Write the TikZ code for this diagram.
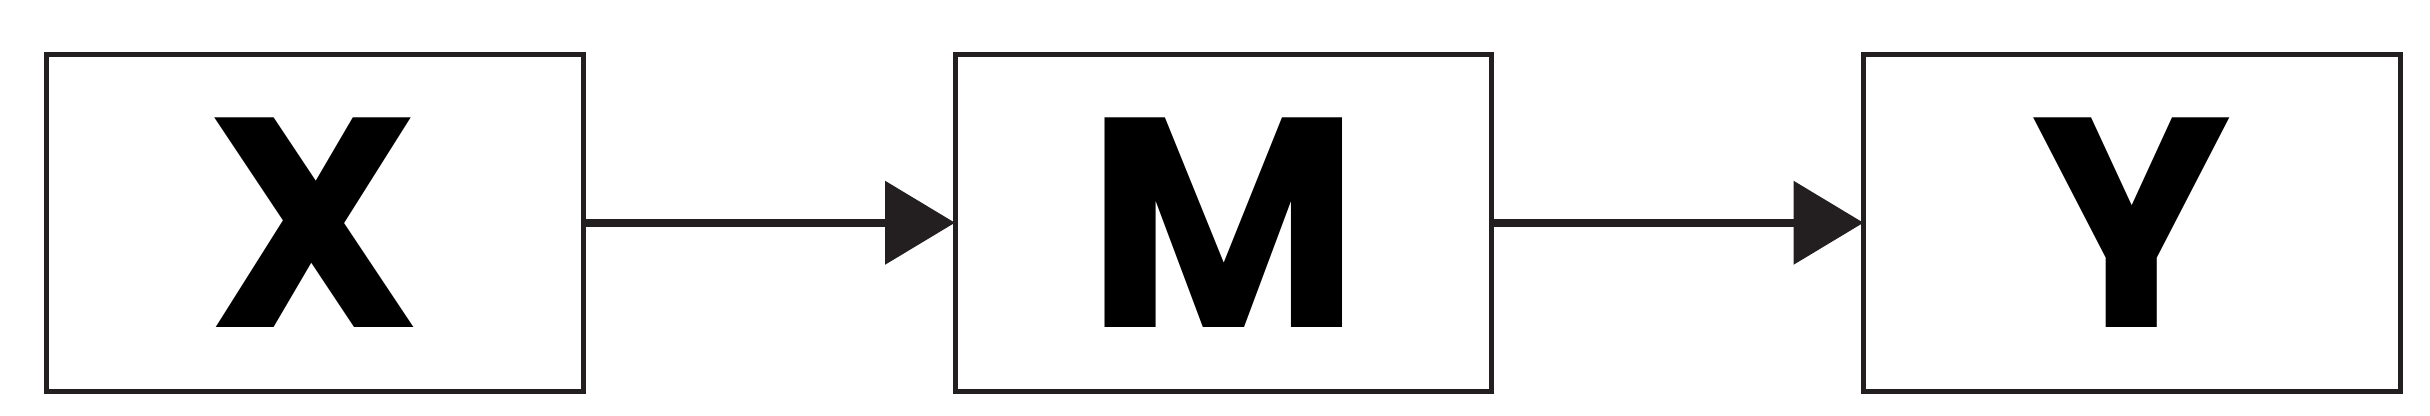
\documentclass[tikz,border=0pt]{standalone}
\usepackage{fontspec}
\newfontfamily\labelfont{Poppins}
\usepackage{tikz}
\usetikzlibrary{positioning,arrows.meta}

\definecolor{linegray}{HTML}{231F20}

\begin{document}
\begin{tikzpicture}[
	block/.style={draw=linegray,
		line width=0.05cm,
		minimum width=5.365cm,
		minimum height=3.365cm,
		inner sep=0pt,
		outer sep=0pt,
		font=\labelfont\bfseries\fontsize{85}{90}\selectfont},
	link/.style={draw=linegray,
		line width=0.08cm,
		-{Triangle[length=0.7cm,width=0.82cm]}}
]
\useasboundingbox (0,0) rectangle (24.3,-4.15);

% X
\node [block] (x) at (3.1475,-2.2275) {X};

% M
\node [block,
	right = 3.72cm of x
] (m) {M};

% Y
\node [block,
	right = 3.72cm of m
] (y) {Y};

% Arrows
\draw[link] (x) -- (m);
\draw[link] (m) -- (y);

\end{tikzpicture}
\end{document}
